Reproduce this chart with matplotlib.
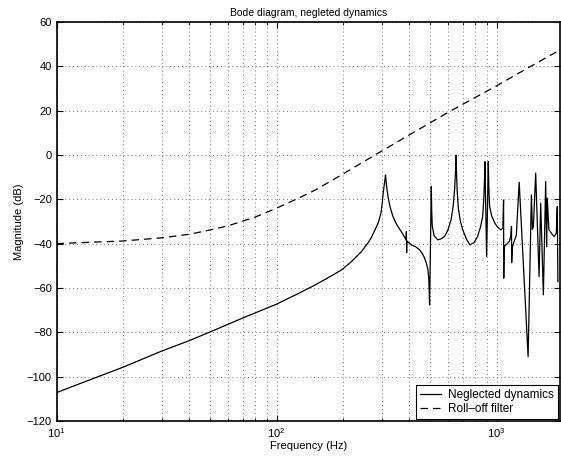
import numpy as np
import matplotlib
matplotlib.use("Agg")
import matplotlib.pyplot as plt
from matplotlib.ticker import LogLocator, NullFormatter, MultipleLocator

plt.rcParams['font.family'] = ['Liberation Sans', 'DejaVu Sans']
plt.rcParams['mathtext.fontset'] = 'custom'
plt.rcParams['mathtext.rm'] = 'Liberation Sans'
plt.rcParams['mathtext.it'] = 'Liberation Sans'

# neglected dynamics (Hz, dB)
f_nd = [10, 15, 20, 30, 40, 50, 70, 100, 125, 150, 172, 197, 219, 243, 261,
        270, 280, 290, 298, 302, 305, 308, 310.5, 312.6, 315, 318, 321, 328,
        338, 352, 369, 388, 389, 390, 391, 410, 430, 447, 460, 471, 480, 487,
        492, 496, 505, 507, 510, 520, 541, 560, 580, 600, 621, 635, 645, 650,
        654, 658, 662, 670, 685, 702, 730, 757, 790, 820, 845, 864, 875, 882,
        885, 901, 917, 922, 930, 950, 982, 1010, 1046, 1068, 1076, 1078,
        1082, 1141, 1160, 1169, 1171, 1180, 1230, 1267, 1391, 1440, 1455,
        1470, 1506, 1560, 1587, 1632, 1672, 1690, 1700, 1730, 1824, 1870,
        1888, 1900]
mag_nd = [-107.2, -100.5, -95.8, -88.5, -83.8, -79.8, -73.6, -67.3, -62.6,
          -58.6, -55.3, -51.9, -48.1, -43.6, -39.5, -37.1, -33.8, -30.5, -26.3,
          -22.0, -17.3, -14.0, -11.5, -9.0, -12.5, -16.0, -18.8, -23.5, -27.8,
          -31.5, -34.6, -38.3, -34.6, -44.1, -38.8, -40.6, -41.5, -42.8, -44.5,
          -46.6, -49.0, -51.5, -56.0, -67.7, -14.3, -25.0, -32.0, -36.5, -38.3,
          -37.8, -36.8, -34.0, -29.3, -23.0, -15.0, -8.0, 0.0, -9.0, -16.0,
          -24.0, -30.0, -33.8, -38.0, -40.6, -39.5, -36.8, -32.5, -27.8, -20.0,
          -10.0, -3.0, -45.9, -3.0, -15.0, -23.3, -27.5, -30.8, -32.5, -33.8,
          -33.0, -20.3, -55.6, -41.4, -39.1, -36.8, -32.3, -48.6, -41.4, -36.1,
          -12.3, -91.0, -18.0, -33.5, -32.3, -8.2, -54.9, -21.8, -63.1, -12.0,
          -41.4, -19.5, -33.8, -36.8, -35.3, -23.3, -57.1]

# roll-off filter
f_ro = [10, 20, 30, 40, 50, 60, 80, 100, 125, 150, 197, 280, 400, 621, 1000,
        1429, 1950]
mag_ro = [-40.0, -38.8, -37.4, -35.8, -33.8, -32.0, -28.0, -24.0, -19.6,
          -15.8, -9.0, 0.0, 9.0, 20.0, 31.2, 40.0, 47.5]

fig = plt.figure(figsize=(5.61, 4.59), dpi=100)
ax = fig.add_axes([0.101, 0.083, 0.897, 0.869])

ax.semilogx(f_nd, mag_nd, color='black', lw=0.9, label='Neglected dynamics')
ax.semilogx(f_ro, mag_ro, color='black', lw=0.9, ls=(0, (6, 4)),
            label='Roll\u2013off filter')

ax.set_xlim(10, 1940)
ax.set_ylim(-120, 60)
ax.yaxis.set_major_locator(MultipleLocator(20))
ax.xaxis.set_major_locator(LogLocator(base=10))
ax.xaxis.set_minor_locator(LogLocator(base=10, subs=np.arange(2, 10)))
ax.xaxis.set_minor_formatter(NullFormatter())

grid_kw = dict(ls=(0, (1, 3)), color='0.45', lw=0.7)
ax.grid(True, which='major', **grid_kw)
ax.grid(True, which='minor', axis='x', **grid_kw)
ax.tick_params(which='both', direction='in', top=True, right=True,
               labelsize=8, length=4)
ax.tick_params(which='minor', length=2)
for s in ax.spines.values():
    s.set_linewidth(1.2)

ax.set_title('Bode diagram, negleted dynamics', fontsize=7.5, pad=4)
ax.set_xlabel('Frequency (Hz)', fontsize=8, labelpad=1)
ax.set_ylabel('Magnitude (dB)', fontsize=8, labelpad=2)

leg = ax.legend(loc='lower right', fontsize=8.5, fancybox=False,
                edgecolor='black', framealpha=1, borderaxespad=0.15,
                handlelength=1.8, handletextpad=0.6, borderpad=0.35,
                labelspacing=0.15)
leg.get_frame().set_linewidth(0.8)

fig.savefig('out.png', dpi=100)
